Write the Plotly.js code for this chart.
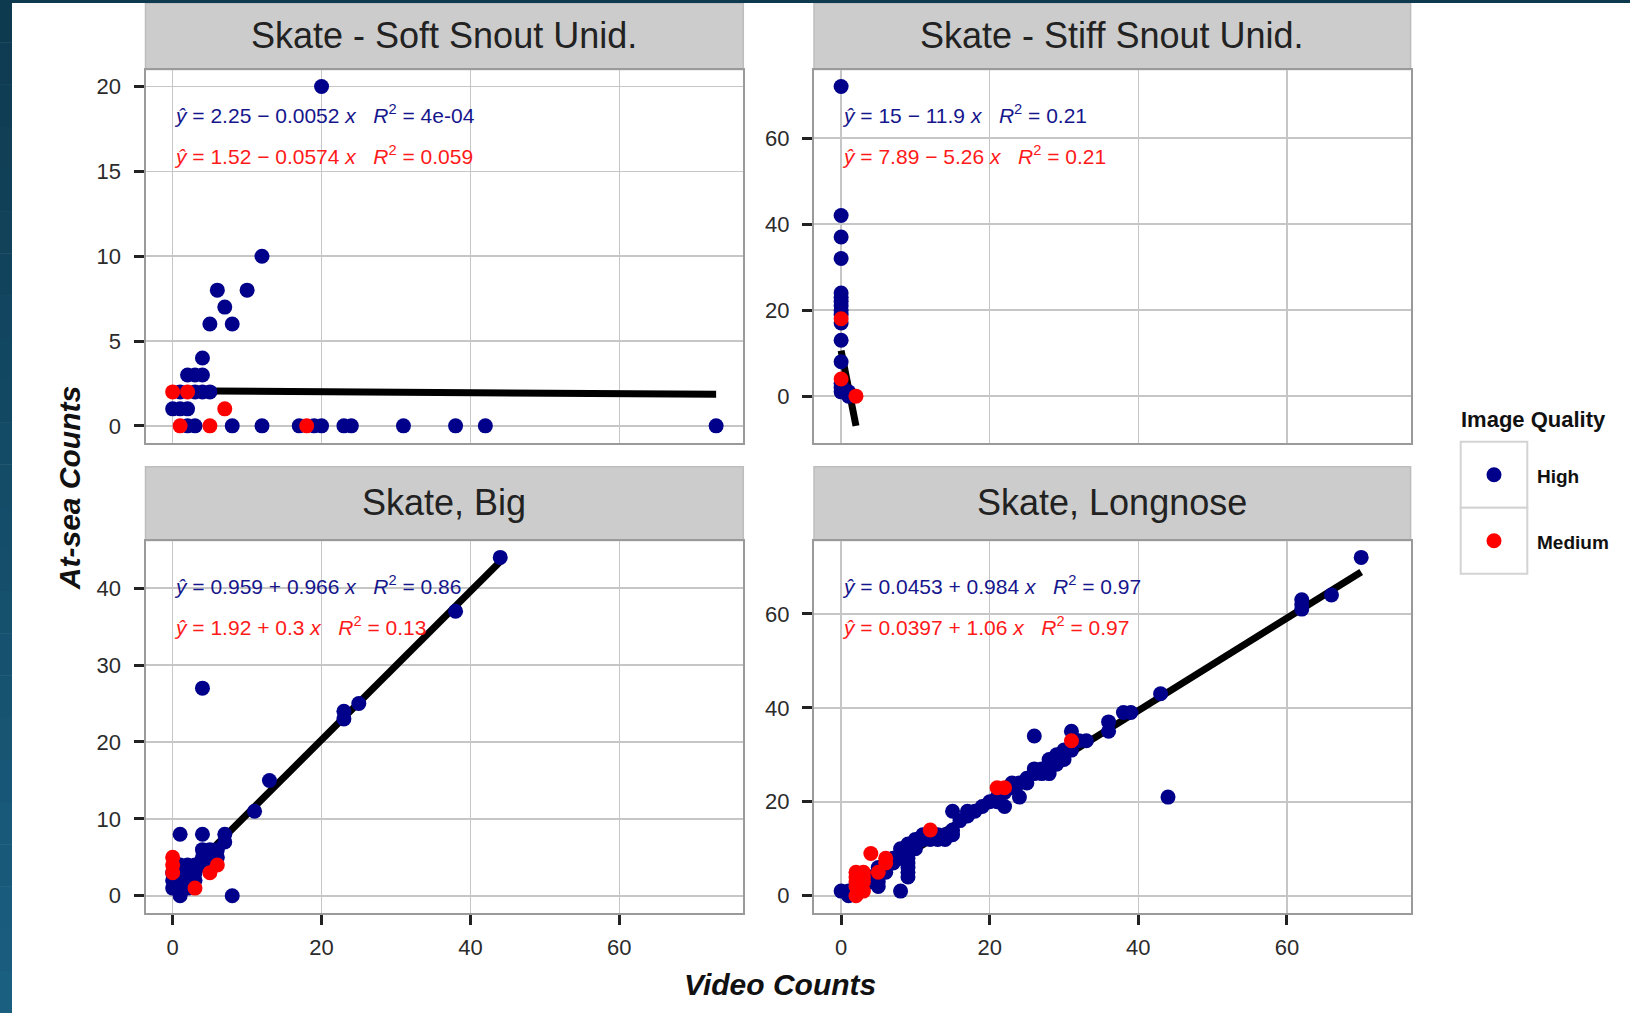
<!DOCTYPE html>
<html><head><meta charset="utf-8">
<script src="https://cdn.plot.ly/plotly-3.0.1.min.js"></script>
<style>html,body{margin:0;padding:0;background:#fff;overflow:hidden}#chart{width:1630px;height:1013px}</style>
</head><body><div id="chart"></div>
<script>
// ---------------- DATA ----------------
const panelTitles = ["Skate - Soft Snout Unid.", "Skate - Stiff Snout Unid.", "Skate, Big", "Skate, Longnose"];
const qualityLevels = ["High", "Medium"];
const xTickVals = [0, 20, 40, 60];
const yTickVals1 = [0, 5, 10, 15, 20];
const yTickVals2 = [0, 20, 40, 60];
const yTickVals3 = [0, 10, 20, 30, 40];
const yTickVals4 = [0, 20, 40, 60];

// Skate - Soft Snout Unid.
const softHighX = [20,12,6,10,7,5,8,4,2,3,4,1,3,4,5,0,1,2,2,3,8,12,17,19,20,23,24,31,38,42,73];
const softHighY = [20,10,8,8,7,6,6,4,3,3,3,2,2,2,2,1,1,1,0,0,0,0,0,0,0,0,0,0,0,0,0];
const softMedX = [0,2,7,1,5,18];
const softMedY = [2,2,1,0,0,0];
const softFitX = [0, 73];
const softFitY = [2.07, 1.86];

// Skate - Stiff Snout Unid.
const stiffHighX = [0,0,0,0,0,0,0,0,0,0,0,0,0,0,0,0,1,1];
const stiffHighY = [72,42,37,32,24,23,22,21,20,19,17,13,8,3,2,1,1,0];
const stiffMedX = [0,0,2];
const stiffMedY = [18,4,0];
const stiffFitX = [0, 2];
const stiffFitY = [10.6, -6.9];

// Skate, Big
const bigHighX = [44,38,4,23,23,25,13,11,8,1,4,7,7,4,5,6,6,0,0,1,1,1,2,2,3,3,4,2,0,1,3,1,5,4];
const bigHighY = [44,37,27,24,23,25,15,11,0,8,8,8,7,6,6,6,5,1,2,0,1,3,2,4,4,3,4,1,3,2,2,4,5,5];
const bigMedX = [0,0,0,3,5,6];
const bigMedY = [5,4,3,1,3,4];
const bigFitX = [0, 44];
const bigFitY = [0.96, 43.46];

// Skate, Longnose
const longHighX = [70,62,62,62,66,43,44,38,39,36,36,31,32,26,30,30,29,28,28,27,27,28,26,25,25,24,23,24,22,21,21,19,18,17,17,16,15,15,15,14,14,13,13,12,11,11,10,10,10,9,9,8,9,9,9,9,9,9,8,8,7,6,6,5,4,5,5,4,3,3,2,8,0,1,1,6,7,12,29,31,30,33,20,22,26,23];
const longHighY = [72,63,62,61,64,43,21,39,39,37,35,35,33,34,31,29,30,29,28,27,26,26,26,25,24,24,23,21,19,21,20,19,18,18,17,16,18,14,13,13,12,13,12,12,13,12,12,11,10,11,10,10,9,8,7,6,5,4,9,8,8,7,6,6,4,3,2,3,3,2,1,1,1,0,1,5,7,13,28,31,30,33,20,22,27,24];
const longMedX = [31,21,22,12,4,2,3,2,3,2,3,2,3,2,6,6,5];
const longMedY = [33,23,23,14,9,5,5,4,4,3,3,2,1,0,7,8,5];
const longFitX = [0, 70];
const longFitY = [0.05, 68.9];

// regression labels (High / Medium)
const hiIntercept = ["2.25", "15", "0.959", "0.0453"];
const hiSlope = [-0.0052, -11.9, 0.966, 0.984];
const hiR2 = ["4e-04", "0.21", "0.86", "0.97"];
const medIntercept = ["1.52", "7.89", "1.92", "0.0397"];
const medSlope = [-0.0574, -5.26, 0.3, 1.06];
const medR2 = ["0.059", "0.21", "0.13", "0.97"];

// ---------------- STYLE / LAYOUT ----------------
const W = 1630, H = 1013;
const fx = p => p / W, fy = p => 1 - p / H;
const colHigh = "#00008B", colMed = "#FF0000";
const FONT = "Liberation Sans, Arial, sans-serif";
const cols = [{l: 145.5, r: 743.3}, {l: 814, r: 1410.6}];
const rows = [{st: 3.1, pt: 69.6, pb: 442.8}, {st: 466.7, pt: 540.5, pb: 912.7}];

const panels = [
  {hx: softHighX, hy: softHighY, mx: softMedX, my: softMedY, fxs: softFitX, fys: softFitY, ticks: yTickVals1},
  {hx: stiffHighX, hy: stiffHighY, mx: stiffMedX, my: stiffMedY, fxs: stiffFitX, fys: stiffFitY, ticks: yTickVals2},
  {hx: bigHighX, hy: bigHighY, mx: bigMedX, my: bigMedY, fxs: bigFitX, fys: bigFitY, ticks: yTickVals3},
  {hx: longHighX, hy: longHighY, mx: longMedX, my: longMedY, fxs: longFitX, fys: longFitY, ticks: yTickVals4}
];

function expandRange(vals) {
  const mn = Math.min(...vals), mx = Math.max(...vals), s = mx - mn;
  return [mn - 0.05 * s, mx + 0.05 * s];
}
const allX = [].concat(...panels.map(p => p.hx.concat(p.mx, p.fxs)));
const xRange = expandRange(allX);

const traces = [];
const layout = {
  width: W, height: H,
  margin: {l: 0, r: 0, t: 0, b: 0},
  paper_bgcolor: "#ffffff", plot_bgcolor: "#ffffff",
  showlegend: false,
  font: {family: FONT, color: "#222"},
  shapes: [], annotations: []
};

const gridC = "#c6c6c6", borderC = "#9a9a9a";

panels.forEach((p, i) => {
  const c = cols[i % 2], r = rows[Math.floor(i / 2)];
  const n = i + 1, xa = "x" + (n === 1 ? "" : n), ya = "y" + (n === 1 ? "" : n);
  const bottom = i >= 2;
  const yRange = expandRange(p.hy.concat(p.my, p.fys));
  layout["xaxis" + (n === 1 ? "" : n)] = {
    domain: [fx(c.l), fx(c.r)], anchor: ya, range: xRange,
    tickmode: "array", tickvals: xTickVals, ticktext: xTickVals.map(String),
    showticklabels: bottom, ticks: bottom ? "outside" : "", ticklen: 10, tickwidth: 3, tickcolor: "#222",
    ticklabelstandoff: 4,
    tickfont: {family: FONT, size: 22, color: "#2b2b2b"},
    showgrid: true, gridcolor: gridC, gridwidth: 1.5, zeroline: false,
    showline: true, mirror: true, linecolor: borderC, linewidth: 2, fixedrange: true
  };
  layout["yaxis" + (n === 1 ? "" : n)] = {
    domain: [fy(r.pb), fy(r.pt)], anchor: xa, range: yRange,
    tickmode: "array", tickvals: p.ticks, ticktext: p.ticks.map(String),
    ticks: "outside", ticklen: 10, tickwidth: 3, tickcolor: "#222",
    ticklabelstandoff: 8,
    tickfont: {family: FONT, size: 22, color: "#2b2b2b"},
    showgrid: true, gridcolor: gridC, gridwidth: 1.5, zeroline: false,
    showline: true, mirror: true, linecolor: borderC, linewidth: 2, fixedrange: true
  };
  // fit line
  traces.push({type: "scatter", mode: "lines", x: p.fxs, y: p.fys, xaxis: xa, yaxis: ya,
    line: {color: "#000", width: 7}, hoverinfo: "skip"});
  traces.push({type: "scatter", mode: "markers", x: p.hx, y: p.hy, xaxis: xa, yaxis: ya, name: qualityLevels[0],
    marker: {color: colHigh, size: 15, line: {width: 0}}, cliponaxis: false});
  traces.push({type: "scatter", mode: "markers", x: p.mx, y: p.my, xaxis: xa, yaxis: ya, name: qualityLevels[1],
    marker: {color: colMed, size: 15, line: {width: 0}}, cliponaxis: false});

  // strip
  layout.shapes.push({type: "rect", xref: "paper", yref: "paper",
    x0: fx(c.l), x1: fx(c.r), y0: fy(r.pt), y1: fy(r.st),
    fillcolor: "#cccccc", line: {color: "#bdbdbd", width: 1.5}, layer: "below"});
  layout.annotations.push({xref: "paper", yref: "paper", x: fx((c.l + c.r) / 2), y: fy((r.st + r.pt) / 2 - 1),
    text: panelTitles[i], showarrow: false, xanchor: "center", yanchor: "middle",
    font: {family: FONT, size: 36, color: "#222"}});

  // equations
  const fmt = (b, s) => b + " " + (s < 0 ? "\u2212" : "+") + " " + String(Math.abs(s));
  const eqH = "<i>\u0177</i> = " + fmt(hiIntercept[i], hiSlope[i]) + " <i>x</i>&nbsp;&nbsp;&nbsp;<i>R</i><sup>2</sup> = " + hiR2[i];
  const eqM = "<i>\u0177</i> = " + fmt(medIntercept[i], medSlope[i]) + " <i>x</i>&nbsp;&nbsp;&nbsp;<i>R</i><sup>2</sup> = " + medR2[i];
  layout.annotations.push({xref: "paper", yref: "paper", x: fx(c.l + 26), y: fy(r.pt + 44.6),
    text: eqH, showarrow: false, xanchor: "left", yanchor: "middle",
    font: {family: FONT, size: 21, color: "#16168c"}});
  layout.annotations.push({xref: "paper", yref: "paper", x: fx(c.l + 26), y: fy(r.pt + 85.5),
    text: eqM, showarrow: false, xanchor: "left", yanchor: "middle",
    font: {family: FONT, size: 21, color: "#ff1a1a"}});
});

// axis titles
layout.annotations.push({xref: "paper", yref: "paper", x: fx(69.6), y: fy(488.6), textangle: -90,
  text: "<b><i>At-sea Counts</i></b>", showarrow: false, xanchor: "center", yanchor: "middle",
  font: {family: FONT, size: 30, color: "#111"}});
layout.annotations.push({xref: "paper", yref: "paper", x: fx(779.6), y: fy(984.5),
  text: "<b><i>Video Counts</i></b>", showarrow: false, xanchor: "center", yanchor: "middle",
  font: {family: FONT, size: 30, color: "#111"}});

// legend (drawn manually, ggplot-style)
layout.annotations.push({xref: "paper", yref: "paper", x: fx(1459), y: fy(419),
  text: "<b>Image Quality</b>", showarrow: false, xanchor: "left", yanchor: "middle",
  font: {family: FONT, size: 22, color: "#111"}});
const keyTop = 441.7, keyH = 66, keyL = 1460.7, keyR = 1527.3;
[colHigh, colMed].forEach((col, k) => {
  const t = keyTop + k * keyH;
  layout.shapes.push({type: "rect", xref: "paper", yref: "paper", x0: fx(keyL), x1: fx(keyR), y0: fy(t + keyH), y1: fy(t),
    fillcolor: "#ffffff", line: {color: "#d3d3d3", width: 2}});
  layout.shapes.push({type: "circle", xref: "paper", yref: "paper", xsizemode: "pixel", ysizemode: "pixel",
    xanchor: fx((keyL + keyR) / 2), yanchor: fy(t + keyH / 2), x0: -7.5, x1: 7.5, y0: -7.5, y1: 7.5,
    fillcolor: col, line: {width: 0}});
  layout.annotations.push({xref: "paper", yref: "paper", x: fx(1535), y: fy(t + keyH / 2 + 1.5),
    text: "<b>" + qualityLevels[k] + "</b>", showarrow: false, xanchor: "left", yanchor: "middle",
    font: {family: FONT, size: 19, color: "#111"}});
});

// dark frame (screenshot border) on left and top
const nBand = 24, c0 = [14, 58, 80], c1 = [26, 94, 128];
for (let k = 0; k < nBand; k++) {
  const t = k / (nBand - 1);
  const cc = c0.map((v, j) => Math.round(v + (c1[j] - v) * t));
  layout.shapes.push({type: "rect", xref: "paper", yref: "paper", x0: 0, x1: fx(12),
    y0: fy(H * (k + 1) / nBand + 0.5), y1: fy(H * k / nBand),
    fillcolor: "rgb(" + cc.join(",") + ")", line: {width: 0}});
}
layout.shapes.push({type: "rect", xref: "paper", yref: "paper", x0: 0, x1: 1, y0: fy(3), y1: 1,
  fillcolor: "rgb(14,58,80)", line: {width: 0}});

Plotly.newPlot("chart", traces, layout, {displayModeBar: false, staticPlot: true});
</script>
</body></html>
